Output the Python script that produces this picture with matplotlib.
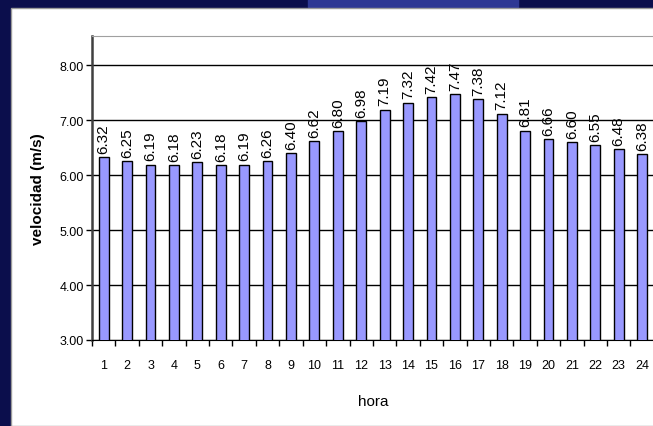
import matplotlib.pyplot as plt
from matplotlib.patches import Rectangle

plt.rcParams['font.family'] = ['Liberation Sans', 'DejaVu Sans']

# Hourly mean wind speed
horas = list(range(1, 25))
velocidad = [6.32, 6.25, 6.19, 6.18, 6.23, 6.18, 6.19, 6.26, 6.40, 6.62,
             6.80, 6.98, 7.19, 7.32, 7.42, 7.47, 7.38, 7.12, 6.81, 6.66,
             6.60, 6.55, 6.48, 6.38]
y_ticks = [3, 4, 5, 6, 7, 8]

W, H = 653, 427
fig = plt.figure(figsize=(W / 100, H / 100), dpi=100)
fig.patch.set_facecolor('#0b0e4c')

# slide decoration: lighter band at the top and the white chart panel
fig.patches.append(Rectangle((308 / W, 1 - 8 / H), 210 / W, 8 / H,
                             transform=fig.transFigure, color='#2e3894', zorder=-2))
fig.patches.append(Rectangle((11 / W, 0), 1, 1 - 9 / H,
                             transform=fig.transFigure, facecolor='white',
                             edgecolor='#9a9a9a', linewidth=1, zorder=-2))

ax = fig.add_axes([92 / W, 1 - 341 / H, 563 / W, 304 / H])
ax.set_zorder(1)
ax.set_facecolor('white')

ax.bar(horas, velocidad, width=0.42, color='#9999ff', edgecolor='black',
       linewidth=1, zorder=3)

for h, v in zip(horas, velocidad):
    ax.annotate(f'{v:.2f}', (h, v), xytext=(0, 3), textcoords='offset points',
                rotation=90, ha='center', va='bottom', fontsize=11, zorder=4)

ax.set_xlim(0.5, 24.55)
ax.set_ylim(3, 8.53)
ax.set_yticks(y_ticks)
ax.set_yticklabels([f'{t:.2f}' for t in y_ticks], fontsize=9)
ax.yaxis.grid(True, color='black', linewidth=1)
ax.set_axisbelow(True)

# category ticks between bars, labels at the centres
ax.set_xticks([h + 0.5 for h in [0] + horas])
ax.set_xticklabels([])
ax.set_xticks(horas, minor=True)
ax.set_xticklabels([str(h) for h in horas], minor=True, fontsize=9)
ax.tick_params(axis='x', which='major', length=4, width=1)
ax.tick_params(axis='x', which='minor', length=0, pad=14)
ax.tick_params(axis='y', length=4, width=1, pad=2)

for s in ['top', 'right']:
    ax.spines[s].set_color('#a0a0a0')
ax.spines['left'].set_color('#404040')
ax.spines['left'].set_linewidth(1.8)
ax.spines['bottom'].set_color('black')

ax.set_xlabel('hora', fontsize=11, labelpad=16)
ax.set_ylabel('velocidad (m/s)', fontsize=11, fontweight='semibold', labelpad=10)

fig.savefig('out.png', dpi=100, facecolor=fig.get_facecolor())
